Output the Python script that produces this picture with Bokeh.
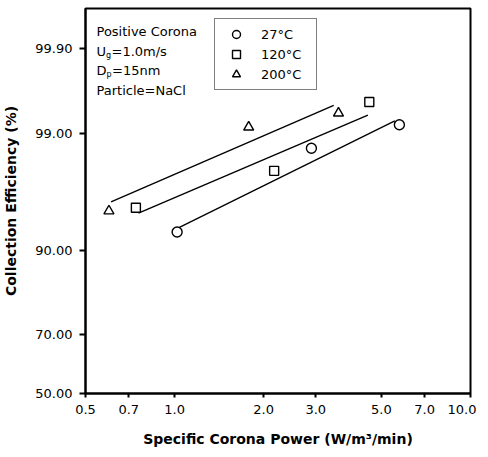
from statistics import NormalDist
from bokeh.plotting import figure
from bokeh.models import FixedTicker, Label, Legend, LegendItem, Range1d
from bokeh.embed import file_html
from bokeh.resources import INLINE

# ---- data ----
x_27 = [1.02, 2.9, 5.75]
y_27 = [92.6, 98.6, 99.2]
x_120 = [0.74, 2.17, 4.55]
y_120 = [95.2, 97.7, 99.55]
x_200 = [0.60, 1.78, 3.58]
y_200 = [94.9, 99.15, 99.4]

fit27_x = [1.03, 5.55]
fit27_y = [93.1, 99.27]
fit120_x = [0.755, 4.5]
fit120_y = [94.7, 99.37]
fit200_x = [0.61, 3.45]
fit200_y = [95.7, 99.51]

x_ticks = [0.5, 0.7, 1.0, 2.0, 3.0, 5.0, 7.0, 10.0]
x_tick_labels = ["0.5", "0.7", "1.0", "2.0", "3.0", "5.0", "7.0", "10.0"]
y_ticks_pct = [50.0, 70.0, 90.0, 99.0, 99.9]
y_tick_labels = ["50.00", "70.00", "90.00", "99.00", "99.90"]

nd = NormalDist()


def probit(values):
    return [nd.inv_cdf(v / 100.0) for v in values]


FONT = "DejaVu Sans"

p = figure(x_axis_type="log", x_range=Range1d(0.5, 10.0), y_range=Range1d(0.0, 3.45),
           frame_width=385, frame_height=385,
           min_border_left=81, min_border_right=6, min_border_top=8, min_border_bottom=56,
           output_backend="svg", toolbar_location=None)

p.grid.visible = False
p.outline_line_color = "black"
p.outline_line_width = 2
p.outline_line_alpha = 1.0
p.background_fill_color = "white"
p.border_fill_color = "white"

y_ticks = probit(y_ticks_pct)
p.xaxis.ticker = FixedTicker(ticks=x_ticks)
p.xaxis.major_label_overrides = {t: l for t, l in zip(x_ticks, x_tick_labels)}
p.yaxis.ticker = FixedTicker(ticks=y_ticks)
p.yaxis.major_label_overrides = {t: l for t, l in zip(y_ticks, y_tick_labels)}

for ax in (p.xaxis, p.yaxis):
    ax.axis_line_color = "black"
    ax.axis_line_width = 2
    ax.major_tick_line_color = "black"
    ax.major_tick_line_width = 2
    ax.major_tick_in = 0
    ax.minor_tick_line_color = None
    ax.major_label_text_font = FONT
    ax.major_label_text_font_size = "13px"
    ax.major_label_text_color = "black"
    ax.axis_label_text_font = FONT
    ax.axis_label_text_font_style = "bold"
    ax.axis_label_text_font_size = "14px"
    ax.axis_label_text_color = "black"

p.xaxis.major_tick_out = 4
p.xaxis.major_label_standoff = 7
p.xaxis.axis_label = "Specific Corona Power (W/m³/min)"
p.xaxis.axis_label_standoff = 14
p.yaxis.major_tick_out = 6
p.yaxis.major_label_standoff = 7
p.yaxis.axis_label = "Collection Efficiency (%)"
p.yaxis.axis_label_standoff = 13

# fitted lines
for fx, fy in ((fit27_x, fit27_y), (fit120_x, fit120_y), (fit200_x, fit200_y)):
    p.line(fx, probit(fy), line_color="black", line_width=1.4)

mk = dict(fill_color="white", line_color="black", line_width=1.4)
r27 = p.scatter(x_27, probit(y_27), marker="circle", size=10, **mk)
r120 = p.scatter(x_120, probit(y_120), marker="square", size=9, **mk)
r200 = p.scatter(x_200, probit(y_200), marker="triangle", size=10, **mk)

legend = Legend(items=[LegendItem(label="27°C", renderers=[r27]),
                       LegendItem(label="120°C", renderers=[r120]),
                       LegendItem(label="200°C", renderers=[r200])],
                location=(129, 303), margin=0, padding=5, spacing=0,
                glyph_width=32, glyph_height=20, label_height=20, label_width=50,
                label_standoff=9,
                label_text_font=FONT, label_text_font_size="13px",
                label_text_color="black",
                border_line_color="black", border_line_width=1.5,
                background_fill_color="white", background_fill_alpha=1.0)
p.add_layout(legend)

lab = dict(x_units="screen", y_units="screen", text_font=FONT, text_color="black",
           text_baseline="alphabetic")
p.add_layout(Label(x=11, y=362, text="Positive Corona", text_font_size="13px", **lab))
p.add_layout(Label(x=11, y=342, text="U", text_font_size="13px", **lab))
p.add_layout(Label(x=20.5, y=338, text="g", text_font_size="8px", **lab))
p.add_layout(Label(x=26, y=342, text="=1.0m/s", text_font_size="13px", **lab))
p.add_layout(Label(x=11, y=323, text="D", text_font_size="13px", **lab))
p.add_layout(Label(x=21, y=319, text="p", text_font_size="8px", **lab))
p.add_layout(Label(x=26.5, y=323, text="=15nm", text_font_size="13px", **lab))
p.add_layout(Label(x=11, y=303, text="Particle=NaCl", text_font_size="13px", **lab))

open("out.html", "w").write(file_html(p, INLINE))
